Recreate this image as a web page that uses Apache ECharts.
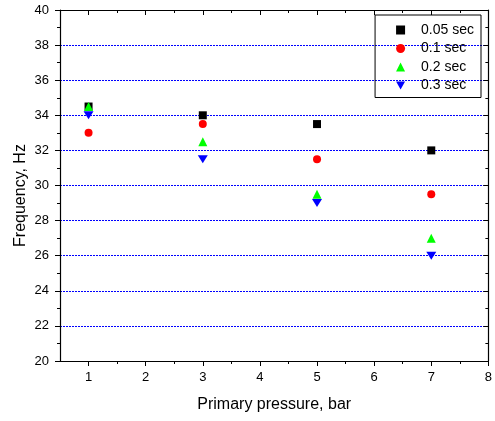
<!DOCTYPE html>
<html><head><meta charset="utf-8">
<script src="https://cdn.jsdelivr.net/npm/echarts@6/dist/echarts.min.js"></script>
<style>html,body{margin:0;padding:0;background:#fff}#c{width:495px;height:421px}</style>
</head><body><div id="c"></div>
<script>
const pressures = [1, 3, 5, 7];
const s005 = [34.5, 34, 33.5, 32];
const s01 = [33, 33.5, 31.5, 29.5];
const s02 = [34.5, 32.5, 29.5, 27];
const s03 = [34, 31.5, 29, 26];
const names = ['0.05 sec', '0.1 sec', '0.2 sec', '0.3 sec'];
const xMajor = [1, 2, 3, 4, 5, 6, 7, 8];
const xMinor = [1.5, 2.5, 3.5, 4.5, 5.5, 6.5, 7.5];

const pair = arr => pressures.map((p, i) => [p, arr[i]]);
const font = 'Liberation Sans, Arial, sans-serif';
const downTri = 'path://M0,0L10,0L5,9Z';
const chart = echarts.init(document.getElementById('c'));
const axisLine = {show: true, lineStyle: {color: '#000', width: 1.2}};
const tickStyle = {color: '#000', width: 1};
function xAx(position, ticks, len, inside, main) {
  return {
    type: 'value', position: position, min: 0.5, max: 8,
    axisLine: main ? axisLine : {show: false},
    axisTick: {show: true, inside: inside, length: len, customValues: ticks, lineStyle: tickStyle},
    minorTick: {show: false},
    splitLine: {show: false},
    axisLabel: main && position === 'bottom'
      ? {fontFamily: font, fontSize: 13, color: '#000', margin: 10, customValues: xMajor}
      : {show: false},
    name: main && position === 'bottom' ? 'Primary pressure, bar' : '',
    nameLocation: 'middle', nameGap: 36,
    nameTextStyle: {fontFamily: font, fontSize: 16, color: '#000'}
  };
}
chart.setOption({
  animation: false,
  grid: {left: 60, right: 5, top: 10, bottom: 60},
  legend: {
    orient: 'vertical', right: 14, top: 15,
    data: names,
    borderColor: '#000', borderWidth: 1, borderRadius: 0,
    padding: [8, 7, 5, 21],
    itemGap: 4.5, itemWidth: 9, itemHeight: 9,
    textStyle: {fontFamily: font, fontSize: 14, color: '#000', padding: [0, 0, 0, 11]}
  },
  xAxis: [
    xAx('bottom', xMajor, 5, false, true),
    xAx('bottom', xMinor, 3, false, false),
    xAx('top', xMajor, 5, true, true),
    xAx('top', xMinor, 3, true, false)
  ],
  yAxis: [{
    type: 'value', min: 20, max: 40, interval: 2,
    axisLine: axisLine,
    axisTick: {show: true, inside: false, length: 5, lineStyle: tickStyle},
    minorTick: {show: true, splitNumber: 2, length: 3, lineStyle: tickStyle},
    splitLine: {show: true, lineStyle: {color: '#0000ff', type: [2, 1], width: 1}},
    axisLabel: {fontFamily: font, fontSize: 13, color: '#000', margin: 11},
    name: 'Frequency, Hz', nameLocation: 'middle', nameGap: 31, nameRotate: 90,
    nameMoveOverlap: false,
    nameTextStyle: {fontFamily: font, fontSize: 16, color: '#000', padding: [0, 20, 0, 0]}
  }, {
    type: 'value', position: 'right', min: 20, max: 40, interval: 2,
    axisLine: axisLine,
    axisTick: {show: true, inside: true, length: 5, lineStyle: tickStyle},
    minorTick: {show: true, splitNumber: 2, length: 3, lineStyle: tickStyle},
    splitLine: {show: false}, axisLabel: {show: false}
  }],
  series: [
    {name: names[0], type: 'scatter', data: pair(s005), symbol: 'rect', symbolSize: 8, itemStyle: {color: '#000', opacity: 1}},
    {name: names[1], type: 'scatter', data: pair(s01), symbol: 'circle', symbolSize: 8, itemStyle: {color: '#ff0000', opacity: 1}},
    {name: names[2], type: 'scatter', data: pair(s02), symbol: 'triangle', symbolSize: 9, itemStyle: {color: '#00ff00', opacity: 1}},
    {name: names[3], type: 'scatter', data: pair(s03), symbol: downTri, symbolKeepAspect: true, symbolSize: [10, 9], itemStyle: {color: '#0000ff', opacity: 1}}
  ]
});
</script></body></html>
